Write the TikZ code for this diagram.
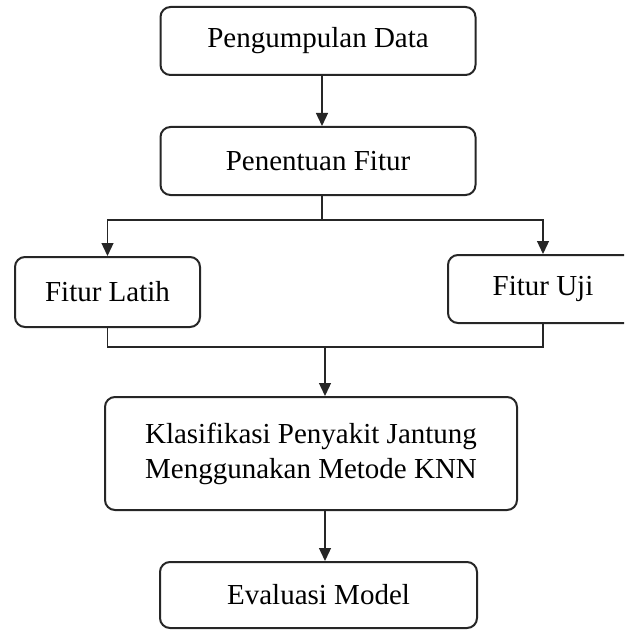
\documentclass[tikz,border=0pt]{standalone}
\usepackage{fontspec}
\setmainfont{Liberation Serif}
\usetikzlibrary{arrows.meta}

\begin{document}
\begin{tikzpicture}[x=1pt, y=-1pt,
        kotak/.style={draw=black!85, line width=2pt, rounded corners=10pt, fill=white,
            align=center, inner sep=0pt, font=\fontsize{29}{35}\selectfont},
        garis/.style={draw=black!85, line width=1.3pt},
        panah/.style={garis, -{Triangle[length=13pt, width=12pt]}}]
        \clip (0, 0) rectangle (624, 631);

        \node[kotak, minimum width=315pt, minimum height=68pt] (data) at (318, 41) {Pengumpulan Data};
        \node[kotak, minimum width=315pt, minimum height=68pt] (fitur) at (318, 161) {Penentuan Fitur};
        \node[kotak, minimum width=185pt, minimum height=70pt] (latih) at (107.5, 292) {Fitur Latih};
        \node[kotak, minimum width=190pt, minimum height=68pt] (uji) at (543, 289) {Fitur Uji};
        \node[kotak, minimum width=412pt, minimum height=113pt] (knn) at (311, 453.5)
        {Klasifikasi Penyakit Jantung\\Menggunakan Metode KNN};
        \node[kotak, minimum width=317pt, minimum height=66pt] (eval) at (318.5, 595) {Evaluasi Model};

        \coordinate (bagi) at (322, 220);
        \coordinate (gabung) at (325, 347);

        \draw[panah] (data.south -| bagi) -- (fitur.north -| bagi);
        \draw[garis] (fitur.south -| bagi) -- (bagi);
        \draw[panah] (bagi) -| (latih.north);
        \draw[panah] (bagi) -| (uji.north);
        \draw[garis] (latih.south) |- (gabung) -| (uji.south);
        \draw[panah] (gabung) -- (knn.north -| gabung);
        \draw[panah] (knn.south -| gabung) -- (eval.north -| gabung);
    \end{tikzpicture}
\end{document}
